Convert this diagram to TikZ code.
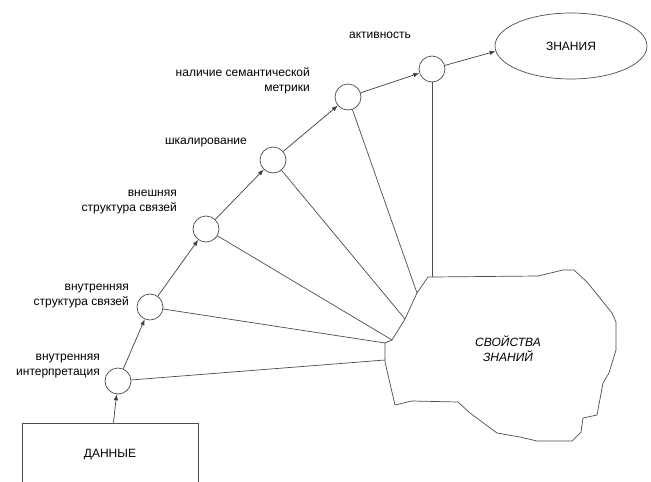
\documentclass[tikz,border=0pt]{standalone}
\usepackage{fontspec}
\setmainfont{Liberation Sans}
\usetikzlibrary{positioning, arrows.meta, shapes.geometric}

\begin{document}
\begin{tikzpicture}[
    x=1pt, y=-1pt,
    every node/.style={font=\fontsize{12}{15}\selectfont},
    stage/.style={draw=black!70, circle, line width=0.7pt, minimum size=26pt, inner sep=0pt},
    lbl/.style={align=right, anchor=east, inner sep=0pt},
    arrow/.style={-{Latex[length=6pt, width=4.5pt]}, draw=black!75, line width=0.7pt},
    link/.style={draw=black!70, line width=0.7pt}
]
\useasboundingbox (0,0) rectangle (651,482);
\clip (0,0) rectangle (651,482);

% input and result
\node[draw=black!70, line width=0.7pt, minimum width=176pt, minimum height=64pt] (data) at (110,455) {ДАННЫЕ};
\node[draw=black!70, line width=0.7pt, ellipse, minimum width=152pt, minimum height=66pt] (know) at (571,46) {ЗНАНИЯ};

% stages
\node[stage] (interp) at (118,381) {};
\node[stage] (inner)  at (150,307) {};
\node[stage] (outer)  at (206,229) {};
\node[stage] (scale)  at (273,160) {};
\node[stage] (metric) at (348,97) {};
\node[stage] (active) at (432,69) {};

\node[lbl] (interplbl) at (100,366) {внутренняя\\интерпретация};
\node[lbl] (innerlbl)  at (129,296) {внутренняя\\структура связей};
\node[lbl] (outerlbl)  at (177,202) {внешняя\\структура связей};
\node[lbl] (scalelbl)  at (247,143) {шкалирование};
\node[lbl] (metriclbl) at (310,81)  {наличие семантической\\метрики};
\node (activelbl) at (380,35) {активность};

\draw[arrow] (data) -- (interp);
\draw[arrow] (interp) -- (inner);
\draw[arrow] (inner) -- (outer);
\draw[arrow] (outer) -- (scale);
\draw[arrow] (scale) -- (metric);
\draw[arrow] (metric) -- (active);
\draw[arrow] (active) -- (know.184);

% knowledge properties
\coordinate (p1) at (385,360);
\coordinate (p2) at (385,343);
\coordinate (p3) at (392,340);
\coordinate (p4) at (405,319);
\coordinate (p5) at (417,293);
\coordinate (p6) at (432,277);
\draw[link] (p6) -- (538,276) -- (563,270) -- (574,270) -- (587,282) -- (612,313)
    -- (616,322) -- (616,350) -- (609,373) -- (603,383) -- (597,415) -- (583,418)
    -- (581,432) -- (572,441) -- (537,441) -- (520,437) -- (497,433) -- (470,413)
    -- (458,402) -- (412,401) -- (395,405) -- (385,362) -- (p1) -- (p2) -- (p3)
    -- (p4) -- (p5) -- (428,277) -- cycle;
\node[font=\fontsize{12}{15}\selectfont\itshape, align=center] (props) at (508,349) {СВОЙСТВА\\ЗНАНИЙ};

\draw[link] (interp) -- (p1);
\draw[link] (inner) -- (p2);
\draw[link] (outer) -- (p3);
\draw[link] (scale) -- (p4);
\draw[link] (metric) -- (p5);
\draw[link] (active) -- (p6);
\end{tikzpicture}
\end{document}
